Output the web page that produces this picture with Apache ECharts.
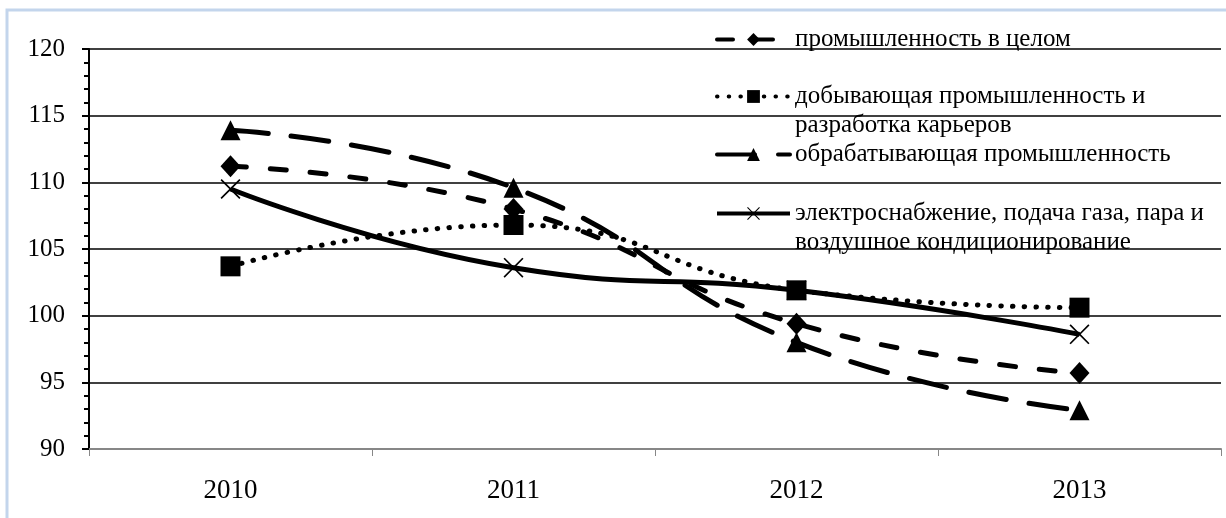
<!DOCTYPE html>
<html>
<head>
<meta charset="utf-8">
<script src="https://cdn.jsdelivr.net/npm/echarts@6/dist/echarts.min.js"></script>
<style>
html, body { margin: 0; padding: 0; background: #fff; }
#main { width: 1226px; height: 518px; }
</style>
</head>
<body>
<div id="main"></div>
<script>
// years on the x axis
var years = ['2010', '2011', '2012', '2013']
// index values, previous year = 100
var totalIndustry = [111.2, 108.0, 99.4, 95.7]
var mining = [103.7, 106.8, 101.9, 100.6]
var manufacturing = [113.9, 109.6, 98.0, 92.9]
var electricity = [109.5, 103.6, 101.9, 98.6]

var names = [
  'промышленность в целом',
  'добывающая промышленность и\nразработка карьеров',
  'обрабатывающая промышленность',
  'электроснабжение, подача газа, пара и\nвоздушное кондиционирование'
]

var font = '"Liberation Serif", "Times New Roman", serif'
var crossPath = 'path://M0,1.2 L1.2,0 L10,8.8 L18.8,0 L20,1.2 L11.2,10 L20,18.8 L18.8,20 L10,11.2 L1.2,20 L0,18.8 L8.8,10 Z'

var myChart = echarts.init(document.getElementById('main'))

// one legend per series so each can sit where the original has it;
// two-line names get an empty first line so the icon lines up with the first text line
function legendAt (name, top, twoLines) {
  return {
    data: [name],
    left: 715,
    top: top,
    orient: 'vertical',
    itemWidth: 73,
    itemHeight: 16,
    itemGap: 0,
    padding: 0,
    selectedMode: false,
    lineStyle: { width: 4 },
    formatter: function (n) { return twoLines ? '\n' + n : n },
    textStyle: {
      fontFamily: font,
      fontSize: 25,
      color: '#000',
      lineHeight: 29
    }
  }
}

var option = {
  animation: false,
  backgroundColor: '#fff',
  graphic: [{
    type: 'rect',
    shape: { x: 7, y: 10, width: 1400, height: 700 },
    style: { fill: 'none', stroke: '#c3d5ec', lineWidth: 3 },
    silent: true
  }],
  legend: [
    legendAt(names[0], 25, false),
    legendAt(names[1], 53, true),
    legendAt(names[2], 140, false),
    legendAt(names[3], 170, true)
  ],
  grid: { left: 89, right: 5, top: 49, bottom: 69, containLabel: false },
  xAxis: {
    type: 'category',
    data: years,
    boundaryGap: true,
    axisLine: { lineStyle: { color: '#878787', width: 2 } },
    axisTick: { show: true, length: 7, lineStyle: { color: '#878787', width: 1 } },
    axisLabel: { fontFamily: font, fontSize: 27, color: '#000', margin: 28 }
  },
  yAxis: {
    type: 'value',
    min: 90,
    max: 120,
    interval: 5,
    axisLine: { show: true, lineStyle: { color: '#000', width: 2 } },
    axisTick: { show: true, length: 7, lineStyle: { color: '#000', width: 2 } },
    minorTick: { show: true, splitNumber: 5, length: 5, lineStyle: { color: '#000', width: 2 } },
    splitLine: { show: true, lineStyle: { color: '#000', width: 1.5 } },
    axisLabel: { fontFamily: font, fontSize: 25, color: '#000', margin: 24 }
  },
  series: [
    {
      name: names[0],
      type: 'line',
      data: totalIndustry,
      smooth: true,
      symbol: 'diamond',
      symbolSize: [20, 22],
      itemStyle: { color: '#000' },
      lineStyle: { color: '#000', width: 5, type: [16, 24], cap: 'round' }
    },
    {
      name: names[1],
      type: 'line',
      data: mining,
      smooth: true,
      symbol: 'rect',
      symbolSize: 20,
      itemStyle: { color: '#000' },
      lineStyle: { color: '#000', width: 5, type: [0.5, 11.2], cap: 'round' }
    },
    {
      name: names[2],
      type: 'line',
      data: manufacturing,
      smooth: true,
      symbol: 'triangle',
      symbolSize: 20,
      itemStyle: { color: '#000' },
      lineStyle: { color: '#000', width: 5, type: [38, 23], cap: 'round' }
    },
    {
      name: names[3],
      type: 'line',
      data: electricity,
      smooth: true,
      symbol: crossPath,
      symbolSize: 20,
      itemStyle: { color: '#000' },
      lineStyle: { color: '#000', width: 5, type: 'solid' }
    }
  ]
}

myChart.setOption(option)
</script>
</body>
</html>
